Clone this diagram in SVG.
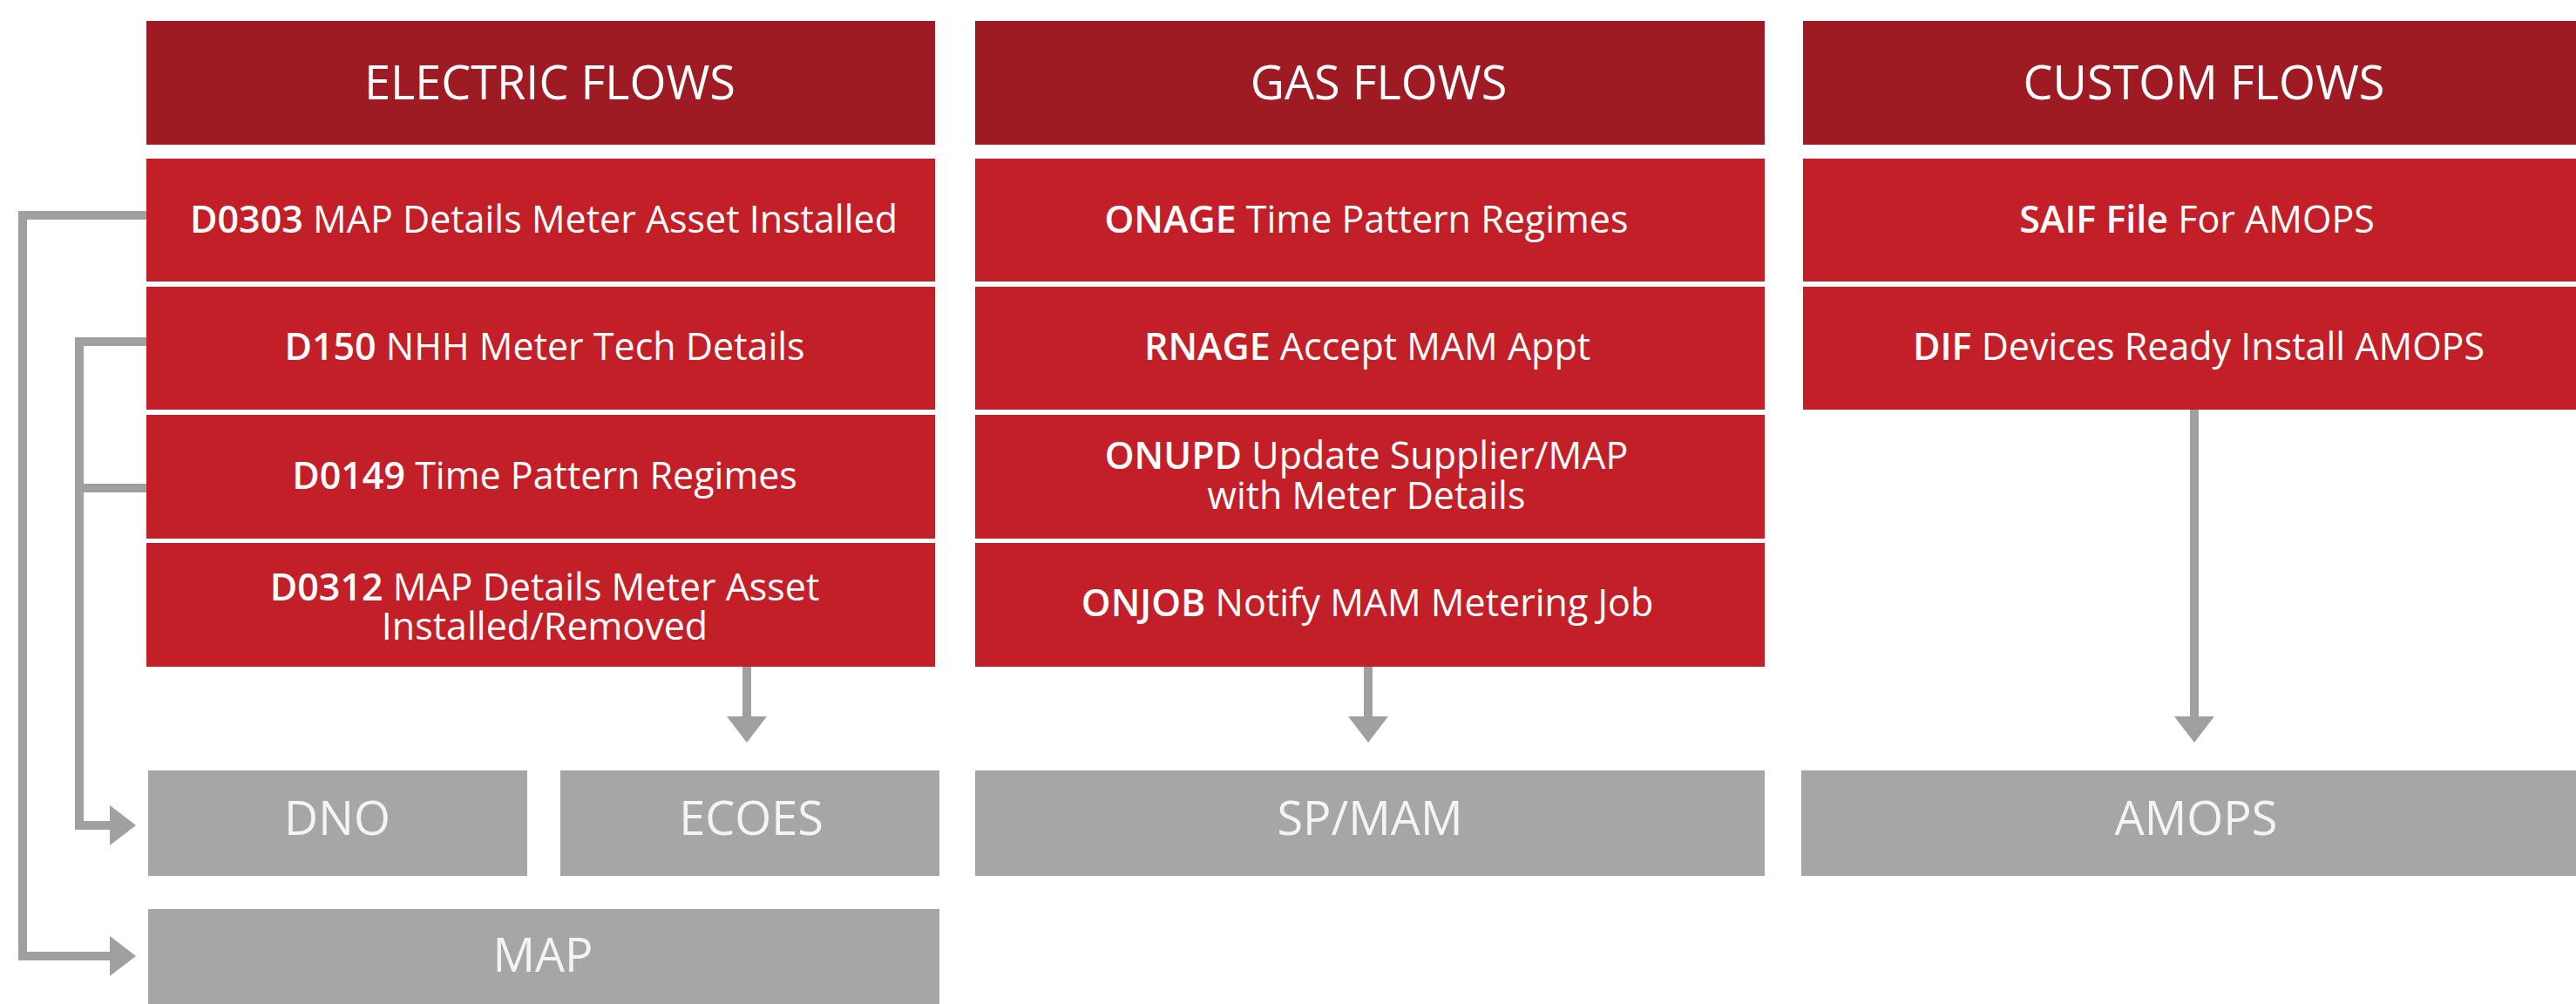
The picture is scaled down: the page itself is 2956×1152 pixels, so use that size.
<svg xmlns="http://www.w3.org/2000/svg" width="2956" height="1152" viewBox="0 0 2956 1152">
<style>
.hdr{fill:#9e1b24}
.row{fill:#c31f28}
.gry{fill:#a6a6a6}
text{font-family:"Open Sans","Liberation Sans",sans-serif;fill:#ffffff;text-anchor:middle}
.ht{font-size:54px}
.rt{font-size:43px}
.gt{font-size:54px;fill:#f4f4f4}
.b{font-weight:600}
.con{fill:none;stroke:#a0a0a0;stroke-width:10}
</style>
<defs>
<marker id="ah" viewBox="0 0 30 46" refX="0" refY="23" markerWidth="30" markerHeight="46" markerUnits="userSpaceOnUse" orient="auto">
<path d="M0,0 L30,23 L0,46 z" fill="#a0a0a0"/>
</marker>
</defs>
<rect width="2956" height="1152" fill="#ffffff"/>

<g id="electric-header"><rect class="hdr" x="168" y="24" width="905" height="142"/><text class="ht" x="631" y="114">ELECTRIC FLOWS</text></g>
<g id="gas-header"><rect class="hdr" x="1119" y="24" width="906" height="142"/><text class="ht" x="1582" y="114">GAS FLOWS</text></g>
<g id="custom-header"><rect class="hdr" x="2069" y="24" width="900" height="142"/><text class="ht" x="2529" y="114">CUSTOM FLOWS</text></g>

<g id="d0303"><rect class="row" x="168" y="182" width="905" height="141"/><text class="rt" x="624" y="267"><tspan class="b">D0303</tspan> MAP Details Meter Asset Installed</text></g>
<g id="d150"><rect class="row" x="168" y="329" width="905" height="141"/><text class="rt" x="625" y="413"><tspan class="b">D150</tspan> NHH Meter Tech Details</text></g>
<g id="d0149"><rect class="row" x="168" y="476" width="905" height="142"/><text class="rt" x="625" y="561"><tspan class="b">D0149</tspan> Time Pattern Regimes</text></g>
<g id="d0312"><rect class="row" x="168" y="623" width="905" height="142"/><text class="rt" x="625" y="689"><tspan class="b">D0312</tspan> MAP Details Meter Asset<tspan x="625" dy="45">Installed/Removed</tspan></text></g>

<g id="onage"><rect class="row" x="1119" y="182" width="906" height="141"/><text class="rt" x="1568" y="267"><tspan class="b">ONAGE</tspan> Time Pattern Regimes</text></g>
<g id="rnage"><rect class="row" x="1119" y="329" width="906" height="141"/><text class="rt" x="1569" y="413"><tspan class="b">RNAGE</tspan> Accept MAM Appt</text></g>
<g id="onupd"><rect class="row" x="1119" y="476" width="906" height="142"/><text class="rt" x="1568" y="538"><tspan class="b">ONUPD</tspan> Update Supplier/MAP<tspan x="1568" dy="46">with Meter Details</tspan></text></g>
<g id="onjob"><rect class="row" x="1119" y="623" width="906" height="142"/><text class="rt" x="1569" y="707"><tspan class="b">ONJOB</tspan> Notify MAM Metering Job</text></g>

<g id="saif"><rect class="row" x="2069" y="182" width="900" height="141"/><text class="rt" x="2521" y="267"><tspan class="b">SAIF File</tspan> For AMOPS</text></g>
<g id="dif"><rect class="row" x="2069" y="329" width="900" height="141"/><text class="rt" x="2523" y="413"><tspan class="b">DIF</tspan> Devices Ready Install AMOPS</text></g>

<g id="dno"><rect class="gry" x="170" y="884" width="435" height="121"/><text class="gt" x="387" y="958">DNO</text></g>
<g id="ecoes"><rect class="gry" x="643" y="884" width="435" height="121"/><text class="gt" x="862" y="958">ECOES</text></g>
<g id="map"><rect class="gry" x="170" y="1043" width="908" height="120"/><text class="gt" x="623" y="1115">MAP</text></g>
<g id="spmam"><rect class="gry" x="1119" y="884" width="906" height="121"/><text class="gt" x="1572" y="958">SP/MAM</text></g>
<g id="amops"><rect class="gry" x="2067" y="884" width="902" height="121"/><text class="gt" x="2520" y="958">AMOPS</text></g>

<g id="connectors">
<path class="con" d="M168 247 H26 V1097 H126" marker-end="url(#ah)"/>
<path class="con" d="M168 392 H91 V947 H126" marker-end="url(#ah)"/>
<path class="con" d="M168 560 H91"/>
<path class="con" d="M857 765 V822" marker-end="url(#ah)"/>
<path class="con" d="M1570 765 V822" marker-end="url(#ah)"/>
<path class="con" d="M2518 470 V822" marker-end="url(#ah)"/>
</g>
</svg>
